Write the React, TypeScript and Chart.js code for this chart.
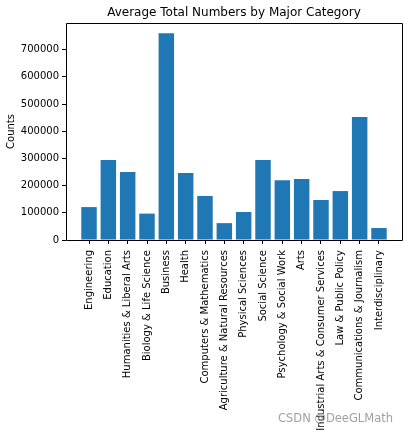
import React, { useEffect, useRef } from "react";
import { Chart, registerables } from "chart.js";

Chart.register(...registerables);

const categories: string[] = [
  "Engineering",
  "Education",
  "Humanities & Liberal Arts",
  "Biology & Life Science",
  "Business",
  "Health",
  "Computers & Mathematics",
  "Agriculture & Natural Resources",
  "Physical Sciences",
  "Social Science",
  "Psychology & Social Work",
  "Arts",
  "Industrial Arts & Consumer Services",
  "Law & Public Policy",
  "Communications & Journalism",
  "Interdisciplinary",
];

const counts: number[] = [
  121000, 294000, 250000, 97000, 760000, 246000, 162000, 62000,
  103000, 294000, 220000, 224000, 147000, 180000, 452000, 44000,
];

const yTicks: number[] = [0, 100000, 200000, 300000, 400000, 500000, 600000, 700000];

const titleText = "Average Total Numbers by Major Category";
const yLabel = "Counts";
const watermark = "CSDN @DeeGLMath";

const FONT = "'DejaVu Sans', sans-serif";

const decorPlugin = {
  id: "decor",
  afterDraw(chart: any) {
    const { ctx, chartArea } = chart;
    const { left, right, top, bottom } = chartArea;
    ctx.save();
    // frame
    ctx.strokeStyle = "#000";
    ctx.lineWidth = 1;
    ctx.beginPath();
    ctx.rect(Math.round(left) + 0.5, Math.round(top) + 0.5, Math.round(right - left), Math.round(bottom - top));
    ctx.stroke();
    // title
    ctx.fillStyle = "#000";
    ctx.font = `12px ${FONT}`;
    ctx.textAlign = "center";
    ctx.textBaseline = "middle";
    ctx.fillText(titleText, (left + right) / 2, 13);
    // y label
    ctx.save();
    ctx.translate(11.5, (top + bottom) / 2);
    ctx.rotate(-Math.PI / 2);
    ctx.font = `10px ${FONT}`;
    ctx.fillText(yLabel, 0, 0);
    ctx.restore();
    // watermark
    ctx.font = `11.5px ${FONT}`;
    ctx.textAlign = "right";
    ctx.fillStyle = "rgba(150,150,150,0.9)";
    ctx.fillText(watermark, 393, 419);
    ctx.restore();
  },
};

export default function App() {
  const ref = useRef<HTMLCanvasElement | null>(null);

  useEffect(() => {
    document.body.style.margin = "0";
    if (!ref.current) return;
    const chart = new Chart(ref.current, {
      type: "bar",
      data: {
        datasets: [
          {
            data: counts.map((v, i) => ({ x: i, y: v })),
            backgroundColor: "#1f77b4",
            borderWidth: 0,
            barPercentage: 0.8,
            categoryPercentage: 1.0,
          },
        ],
      },
      plugins: [decorPlugin],
      options: {
        animation: false,
        responsive: false,
        maintainAspectRatio: false,
        layout: { padding: { top: 23, right: 6, left: 0, bottom: 0 } },
        plugins: {
          legend: { display: false },
          title: { display: false },
          tooltip: { enabled: false },
        },
        scales: {
          x: {
            type: "linear",
            min: -1.19,
            max: 16.19,
            offset: false,
            afterBuildTicks: (scale: any) => {
              scale.ticks = categories.map((_, i) => ({ value: i }));
            },
            afterFit: (scale: any) => {
              scale.height = 195;
            },
            grid: {
              offset: false,
              drawOnChartArea: false,
              drawTicks: true,
              tickLength: 4,
              color: "#000",
              lineWidth: 1,
            },
            border: { display: false },
            ticks: {
              autoSkip: false,
              maxRotation: 90,
              minRotation: 90,
              padding: 6,
              color: "#000",
              font: { family: FONT, size: 10 },
              callback: (value: any) => categories[Math.round(Number(value))] ?? "",
            },
          },
          y: {
            type: "linear",
            min: 0,
            max: 798000,
            afterBuildTicks: (scale: any) => {
              scale.ticks = yTicks.map((v) => ({ value: v }));
            },
            afterFit: (scale: any) => {
              scale.width = 66;
            },
            grid: {
              offset: false,
              drawOnChartArea: false,
              drawTicks: true,
              tickLength: 4,
              color: "#000",
              lineWidth: 1,
            },
            border: { display: false },
            ticks: {
              padding: 3,
              color: "#000",
              font: { family: FONT, size: 10 },
              callback: (value: any) => String(value),
            },
          },
        },
      },
    });
    return () => chart.destroy();
  }, []);

  return (
    <div style={{ position: "absolute", left: 0, top: 0, width: 408, height: 435, background: "#fff" }}>
      <canvas ref={ref} width={408} height={435} style={{ width: 408, height: 435 }} />
    </div>
  );
}
